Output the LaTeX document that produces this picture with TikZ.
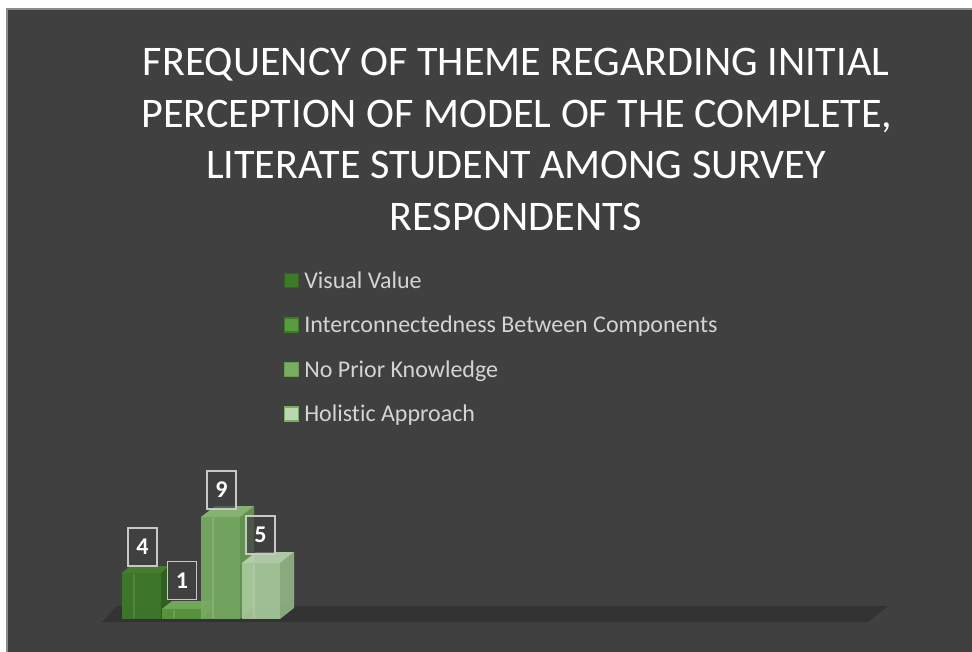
\documentclass[tikz,border=0pt]{standalone}
\usepackage{fontspec}
\setmainfont{Carlito}[Ligatures={NoCommon}]
\definecolor{panel}{HTML}{404040}
\definecolor{panelline}{HTML}{8C8C8C}
\definecolor{floorc}{HTML}{333333}
\definecolor{legtext}{HTML}{D4D4D4}
\definecolor{cA}{HTML}{3D7A28}
\definecolor{cAt}{HTML}{46832F}
\definecolor{cAs}{HTML}{2F6220}
\definecolor{cB}{HTML}{5A9B3E}
\definecolor{cBt}{HTML}{78B25C}
\definecolor{cBs}{HTML}{4A8532}
\definecolor{cC}{HTML}{78AD62}
\definecolor{cCt}{HTML}{8DBF78}
\definecolor{cCs}{HTML}{679B52}
\definecolor{cD}{HTML}{A9C99C}
\definecolor{cDt}{HTML}{BCD6B1}
\definecolor{cDs}{HTML}{90B683}
\definecolor{lblline}{HTML}{C8C8C8}
\tikzset{
  titletext/.style={anchor=base, text=white, inner sep=0pt, font=\fontsize{31.6}{38}\selectfont},
  legtxt/.style={anchor=base west, text=legtext, inner sep=0pt, font=\fontsize{18}{21}\selectfont},
  legsq/.style={minimum size=10.5pt, inner sep=0pt, line width=0.9pt},
  vallbl/.style={minimum width=21.75pt, minimum height=28.5pt, inner sep=0pt,
    draw=lblline, line width=1.3pt, fill=panel, fill opacity=0.7, text opacity=1,
    text=white, font=\fontsize{18}{21}\bfseries\selectfont},
}
% #1 left x, #2 right x, #3 top y, #4 dx, #5 rise, #6 front, #7 top, #8 side
\newcommand\chartbar[8]{%
  \fill[#8, opacity=0.9] (#2,619) -- (#2+#4,619-#5) -- (#2+#4,#3-#5) -- (#2,#3) -- cycle;
  \fill[#7, opacity=0.9] (#1,#3) -- (#2,#3) -- (#2+#4,#3-#5) -- (#1+#4,#3-#5) -- cycle;
  \fill[#6, opacity=0.92] (#1,619) rectangle (#2,#3);
  \draw[#7!60!white, opacity=0.25, line width=0.8pt] (#1+12,618) -- (#1+12,#3+1);
}
\begin{document}
\begin{tikzpicture}[x=0.75pt,y=-0.75pt]
\useasboundingbox (0,0) rectangle (972,651);
\fill[white] (0,0) rectangle (972,651);
\fill[panel] (7,9) rectangle (980,660);
\draw[panelline, line width=0.9pt] (7,660) -- (7,9) -- (980,9);

% title
\node[titletext] (t1) at (516,75) {FREQUENCY OF THEME REGARDING INITIAL};
\node[titletext] (t2) at (517,127) {PERCEPTION OF MODEL OF THE COMPLETE,};
\node[titletext] (t3) at (516,178.5) {LITERATE STUDENT AMONG SURVEY};
\node[titletext] (t4) at (516,230) {RESPONDENTS};

% legend
\node[legsq, fill=cA, draw=cAs] (s1) at (291.5,280.5) {};
\node[legsq, fill=cB, draw=cA] (s2) at (291.5,325) {};
\node[legsq, fill=cC, draw=cCs] (s3) at (291.5,369.5) {};
\node[legsq, fill=cDt, draw=cC] (s4) at (291.5,414) {};
\node[legtxt] (l1) at (304,288) {Visual Value};
\node[legtxt] (l2) at (304,332.5) {Interconnectedness Between Components};
\node[legtxt] (l3) at (304,377) {No Prior Knowledge};
\node[legtxt] (l4) at (304,421.5) {Holistic Approach};

% floor
\fill[floorc] (102,622) -- (868,622) -- (888,606) -- (117,606) -- cycle;

% bars
\chartbar{122}{161}{573}{8}{7}{cA}{cAt}{cAs}
\chartbar{162}{201}{609}{10}{8}{cB}{cBt}{cBs}
\chartbar{201}{240}{517}{14}{11}{cC}{cCt}{cCs}
\chartbar{242}{280}{563}{14}{11}{cD}{cDt}{cDs}

% value labels
\node[vallbl] (v1) at (142.5,547) {4};
\node[vallbl] (v2) at (182,580.5) {1};
\node[vallbl] (v3) at (221.5,490) {9};
\node[vallbl] (v4) at (260.5,535) {5};
\end{tikzpicture}
\end{document}
